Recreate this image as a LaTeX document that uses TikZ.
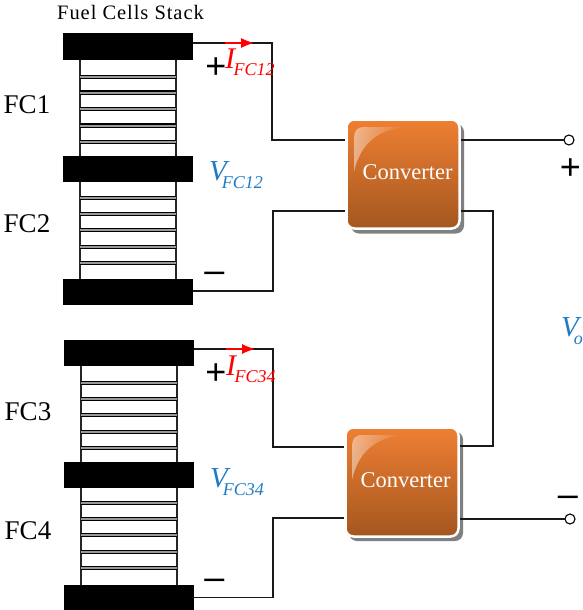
\documentclass[tikz,border=0pt]{standalone}
\usepackage{fontspec}
\setmainfont{Liberation Serif}
\newfontfamily\signfont{Liberation Sans}
\usetikzlibrary{fadings,arrows.meta}
\definecolor{vblue}{HTML}{1F7CC4}
\definecolor{ctop}{HTML}{EE7F33}
\definecolor{cbot}{HTML}{A4571F}
\tikzset{
  plate/.style={fill=black,draw=none,minimum width=130pt,minimum height=26.5pt,inner sep=0pt,outer sep=0pt},
  conv/.style={rounded corners=8pt,minimum width=113pt,minimum height=109pt,inner sep=0pt,outer sep=1.5pt,draw=white,line width=2.5pt,
    top color=ctop,bottom color=cbot},
  convtext/.style={text=white,font=\fontsize{22.5}{24}\selectfont,inner sep=0pt},
  shadowbox/.style={black!50,rounded corners=8pt},
  wire/.style={line width=1.1pt,black!90,line join=miter},
  term/.style={circle,draw=black,line width=1.1pt,fill=white,minimum size=10pt,inner sep=0pt,outer sep=0pt},
  lab/.style={font=\fontsize{27}{30}\selectfont,inner sep=0pt},
  sgn/.style={inner sep=0pt,font=\signfont\fontsize{36}{36}\selectfont},
  ilab/.style={red,inner sep=0pt,anchor=base west},
  vlab/.style={vblue,inner sep=0pt,anchor=base west},
  side/.style={black!85,line width=1.3pt},
  curr/.style={red,line width=1.1pt,-{Latex[length=13pt,width=10pt]}},
}
\newcommand{\slat}[3]{% x1,x2,y
  \fill[black!40] (#1,#3-1.5) rectangle (#2,#3+1.5);
  \draw[black,line width=1.4pt] (#1,#3-1.7) -- (#2,#3-1.7) (#1,#3+1.7) -- (#2,#3+1.7);}
\newcommand{\ilabel}[2]{{\itshape\fontsize{30}{30}\selectfont #1\kern-1.5pt\raisebox{-7pt}{\fontsize{18}{20}\selectfont #2}}}
\newcommand{\vlabel}[2]{{\itshape\fontsize{29}{30}\selectfont #1\kern-5pt\raisebox{-8pt}{\fontsize{18}{20}\selectfont #2}}}
\newcommand{\gloss}[2]{%
  \fill[white,opacity=.45,path fading=east] (#1+7,#2+20) .. controls (#1+7,#2+10) and (#1+10,#2+7) .. (#1+18,#2+7)
     -- (#1+58,#2+7) .. controls (#1+35,#2+9) and (#1+14,#2+20) .. (#1+7,#2+52) -- cycle;}
\begin{document}
\begin{tikzpicture}[x=1pt,y=-1pt]
\useasboundingbox (0,0) rectangle (583,610);
% first stack
\foreach \a/\b in {60/156,182/279}{\draw[side] (80,\a) -- (80,\b) (176,\a) -- (176,\b);}
\foreach \y in {77,92.5,109,125.5,142,198,214,230,247,263}{\slat{80}{176}{\y}}
\node[plate] (p1) at (128,46.5) {};
\node[plate] (p2) at (128,169) {};
\node[plate] (p3) at (128,292) {};
% second stack
\foreach \a/\b in {366/462,488/585}{\draw[side] (81,\a) -- (81,\b) (177,\a) -- (177,\b);}
\foreach \y in {383,399,415,432,448,503,519,535,552,568}{\slat{81}{177}{\y}}
\node[plate] (p4) at (129,353) {};
\node[plate] (p5) at (129,475) {};
\node[plate,minimum height=25pt] (p6) at (129,597.5) {};
% converters
\fill[shadowbox] (351,124) rectangle (464,233.5);
\fill[shadowbox] (349,431.5) rectangle (463,541);
\node[conv] (c1) at (403,174) {};
\node[conv] (c2) at (402,482) {};
\gloss{347}{120}
\gloss{345}{428}
\node[convtext] (t1) at (407.5,172) {Converter};
\node[convtext] (t2) at (405.5,480) {Converter};
% terminals
\node[term] (o1) at (569,140) {};
\node[term] (o2) at (570,519) {};
% wires
\draw[wire] ([yshift=3.5pt]p1.east) -| (272,140) -- (c1.west |- 272,140);
\draw[wire] ([yshift=1pt]p3.east) -| (273,211) -- (c1.west |- 273,211);
\draw[wire] ([yshift=4pt]p4.east) -| (273,447) -- (c2.west |- 273,447);
\draw[wire] (p6.east) -| (273,518) -- (c2.west |- 273,518);
\draw[wire] (c1.east |- o1.west) -- (o1.west);
\draw[wire] (c1.east |- 493,211) -| (493,446) -- (c2.east |- 493,446);
\draw[wire] (c2.east |- o2.west) -- (o2.west);
% red current arrows
\draw[curr] (225,43) -- (254,43);
\draw[curr] (226,349) -- (255,349);
% labels
\node[inner sep=0pt,font=\addfontfeature{LetterSpace=4.6}\fontsize{20.5}{22}\selectfont] (title) at (130.5,12) {Fuel Cells Stack};
\node[lab] (f1) at (27,105) {FC1};
\node[lab] (f2) at (27,224) {FC2};
\node[lab] (f3) at (28,412) {FC3};
\node[lab] (f4) at (28,531) {FC4};
\node[ilab] (i1) at (225,68) {\ilabel{I}{FC12}};
\node[ilab] (i2) at (226,375) {\ilabel{I}{FC34}};
\node[vlab] (v1) at (209,180) {\vlabel{V}{FC12}};
\node[vlab] (v2) at (210,487) {\vlabel{V}{FC34}};
\node[vlab] (vo) at (561,336) {\vlabel{V}{o}};
\node[sgn] (s1) at (216,68) {+};
\node[sgn] (s2) at (216,374) {+};
\node[sgn] (s3) at (570.5,169) {+};
\node[sgn] (s4) at (214.5,277) {–};
\node[sgn] (s5) at (214.5,584) {–};
\node[sgn] (s6) at (568,501) {–};
\end{tikzpicture}
\end{document}
